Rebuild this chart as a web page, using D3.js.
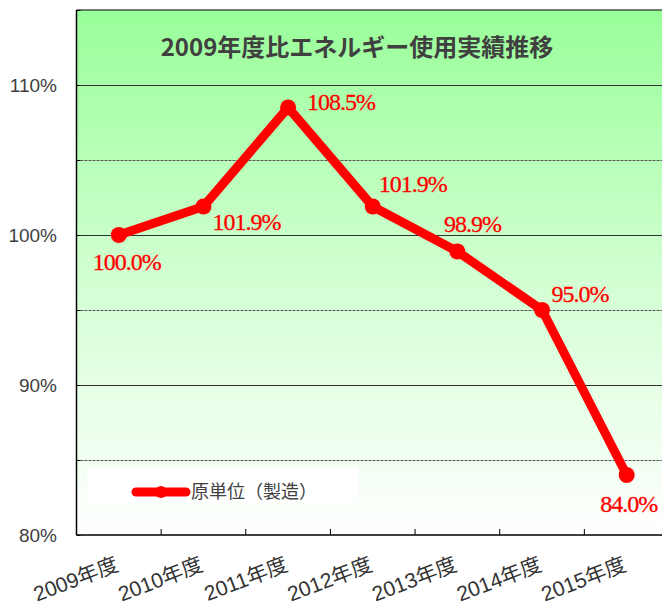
<!DOCTYPE html>
<html>
<head>
<meta charset="utf-8">
<script src="https://cdn.jsdelivr.net/npm/d3@7"></script>
<style>
  html, body { margin: 0; padding: 0; background: #ffffff; }
  svg { display: block; }
</style>
</head>
<body>
<svg id="chart" width="662" height="606"></svg>
<script>
// Fiscal years and energy use per unit of production, relative to FY2009
const categories = ["2009年度", "2010年度", "2011年度", "2012年度", "2013年度", "2014年度", "2015年度"];
const values = [100.0, 101.9, 108.5, 101.9, 98.9, 95.0, 84.0];
const yTicks = [80, 85, 90, 95, 100, 105, 110, 115];
const yTickLabels = ["80%", "", "90%", "", "100%", "", "110%", ""];
const seriesName = "原単位（製造）";
const title = "2009年度比エネルギー使用実績推移";

// label placement relative to each point (dx, dy)
const labelOffsets = [[8, 35], [43, 23], [53, 2], [40, -15], [15, -20], [38, -8], [2, 37]];

const svg = d3.select("#chart");
const plot = { left: 76.5, right: 669, top: 10, bottom: 535 };

const x = d3.scaleBand().domain(categories).range([plot.left, plot.right]).padding(0);
const y = d3.scaleLinear().domain([80, 115]).range([plot.bottom, plot.top]);

// background gradient
const defs = svg.append("defs");
const grad = defs.append("linearGradient").attr("id", "bg").attr("x1", 0).attr("y1", 0).attr("x2", 0).attr("y2", 1);
grad.append("stop").attr("offset", "0%").attr("stop-color", "#99ff99");
grad.append("stop").attr("offset", "55%").attr("stop-color", "#d6ffd6");
grad.append("stop").attr("offset", "100%").attr("stop-color", "#ffffff");

svg.append("rect")
  .attr("x", plot.left).attr("y", plot.top)
  .attr("width", plot.right - plot.left).attr("height", plot.bottom - plot.top)
  .attr("fill", "url(#bg)");

// gridlines: solid at every 10%, dashed at the 5% steps between
svg.append("g").selectAll("line")
  .data(yTicks.filter(t => t > 80 && t < 115))
  .join("line")
  .attr("x1", plot.left).attr("x2", plot.right)
  .attr("y1", d => y(d) + 0.5).attr("y2", d => y(d) + 0.5)
  .attr("stroke", d => d % 10 === 0 ? "#333333" : "#555555")
  .attr("stroke-width", 1)
  .attr("stroke-dasharray", d => d % 10 === 0 ? null : "3,1");

// legend background
svg.append("rect")
  .attr("x", 87).attr("y", 467).attr("width", 271).attr("height", 35)
  .attr("fill", "#ffffff").attr("opacity", 0.85);

// axes
const yAxis = d3.axisRight(y).tickValues(yTicks).tickSize(4).tickFormat("");
const yg = svg.append("g").attr("transform", `translate(${plot.left},0)`).call(yAxis);
yg.select(".domain").remove();
yg.selectAll(".tick line").attr("stroke", "#000");

svg.append("line")
  .attr("x1", plot.left).attr("x2", plot.left)
  .attr("y1", plot.top).attr("y2", plot.bottom)
  .attr("stroke", "#000").attr("stroke-width", 1.5);
svg.append("line")
  .attr("x1", plot.left).attr("x2", plot.right)
  .attr("y1", plot.top).attr("y2", plot.top)
  .attr("stroke", "#000").attr("stroke-width", 1.2);
svg.append("line")
  .attr("x1", plot.left).attr("x2", plot.right)
  .attr("y1", plot.bottom).attr("y2", plot.bottom)
  .attr("stroke", "#000").attr("stroke-width", 1.5);

// x ticks at the category boundaries, pointing up
svg.append("g").selectAll("line")
  .data(categories.slice(1))
  .join("line")
  .attr("x1", d => x(d)).attr("x2", d => x(d))
  .attr("y1", plot.bottom).attr("y2", plot.bottom - 6)
  .attr("stroke", "#000");

// y tick labels
svg.append("g").selectAll("text")
  .data(yTicks.map((t, i) => ({ t, label: yTickLabels[i] })).filter(d => d.label))
  .join("text")
  .attr("x", 57).attr("y", d => y(d.t))
  .attr("dy", "0.35em")
  .attr("text-anchor", "end")
  .attr("font-family", "'Liberation Sans', Arial, sans-serif")
  .attr("font-size", 19)
  .attr("fill", "#404040")
  .text(d => d.label);

// x category labels, rotated
svg.append("g").selectAll("text")
  .data(categories)
  .join("text")
  .attr("transform", d => `translate(${x(d) + x.bandwidth() / 2 + 1},570) rotate(-21)`)
  .attr("text-anchor", "end")
  .attr("font-family", "'Liberation Sans', 'Noto Sans CJK JP', sans-serif")
  .attr("font-size", 21)
  .attr("fill", "#333333")
  .text(d => d);

// title
svg.append("text")
  .attr("x", 357).attr("y", 56)
  .attr("text-anchor", "middle")
  .attr("font-family", "'Noto Sans CJK JP', sans-serif")
  .attr("font-weight", "bold")
  .attr("font-size", 24)
  .attr("fill", "#404040")
  .text(title);

// series line and markers
const pts = categories.map((c, i) => ({ c, v: values[i], i }));
const line = d3.line().x(d => x(d.c) + x.bandwidth() / 2).y(d => y(d.v));
svg.append("path")
  .datum(pts)
  .attr("d", line)
  .attr("fill", "none")
  .attr("stroke", "#ff0000")
  .attr("stroke-width", 9)
  .attr("stroke-linejoin", "round");
svg.append("g").selectAll("circle")
  .data(pts)
  .join("circle")
  .attr("cx", d => x(d.c) + x.bandwidth() / 2)
  .attr("cy", d => y(d.v))
  .attr("r", 8)
  .attr("fill", "#ff0000");

// value labels
svg.append("g").selectAll("text")
  .data(pts)
  .join("text")
  .attr("x", d => x(d.c) + x.bandwidth() / 2 + labelOffsets[d.i][0])
  .attr("y", d => y(d.v) + labelOffsets[d.i][1])
  .attr("text-anchor", "middle")
  .attr("font-family", "'Liberation Serif', 'Times New Roman', serif")
  .attr("font-size", 24)
  .attr("letter-spacing", -1)
  .attr("fill", "#ff0000")
  .attr("stroke", "#ff0000")
  .attr("stroke-width", 0.3)
  .text(d => d.v.toFixed(1) + "%");

// legend
svg.append("line")
  .attr("x1", 136).attr("x2", 186).attr("y1", 492).attr("y2", 492)
  .attr("stroke", "#ff0000").attr("stroke-width", 9).attr("stroke-linecap", "round");
svg.append("circle").attr("cx", 161).attr("cy", 492).attr("r", 6).attr("fill", "#ff0000");
svg.append("text")
  .attr("x", 191).attr("y", 492).attr("dy", "0.35em")
  .attr("font-family", "'Noto Sans CJK JP', sans-serif")
  .attr("font-size", 18)
  .attr("fill", "#404040")
  .text(seriesName);
</script>
</body>
</html>
